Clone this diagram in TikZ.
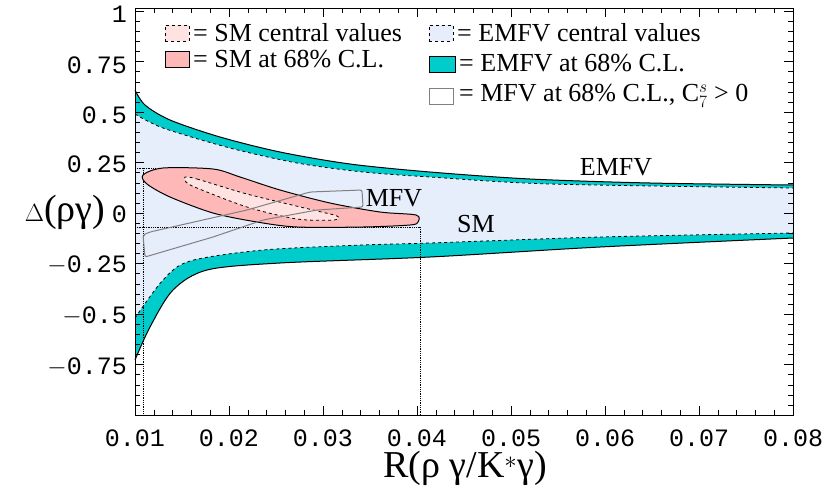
\documentclass[tikz,border=0pt]{standalone}
\usepackage{fontspec}
\setmainfont{Liberation Serif}
\setmonofont{Liberation Mono}
\definecolor{bandblue}{HTML}{E6EDFB}
\definecolor{teal2}{HTML}{00CCCC}
\definecolor{pinkA}{HTML}{FFB8B8}
\definecolor{pinkB}{HTML}{FFE2E2}
\begin{document}
\begin{tikzpicture}[x=1pt,y=-1pt,
  lbl/.style={font=\fontsize{26}{30}\selectfont,anchor=west,inner sep=0},
  tick/.style={font=\ttfamily\fontsize{25}{28}\selectfont},
  dots/.style={densely dotted,line width=0.8pt}]
\useasboundingbox (0,0) rectangle (830,496);
% teal band
\fill[teal2] plot[smooth] coordinates {(135,90)(145,105)(170,120)(220,137)(280,152)(350,164)(430,172)(530,179)(650,183)(793,185)}
  -- plot[smooth] coordinates {(793,238)(600,247)(430,257)(280,263)(207,270)(173,290)(150,327)(135,360)} -- cycle;
\fill[bandblue] plot[smooth] coordinates {(135,114)(163,128)(230,148)(297,163)(363,172)(430,177)(550,184)(793,188)}
  -- plot[smooth] coordinates {(793,233)(600,237)(430,243)(363,245)(263,250)(190,261)(163,280)(135,318)} -- cycle;
\draw[dashed,line width=0.8pt] plot[smooth] coordinates {(135,114)(163,128)(230,148)(297,163)(363,172)(430,177)(550,184)(793,188)};
\draw[dashed,line width=0.8pt] plot[smooth] coordinates {(135,318)(163,280)(190,261)(263,250)(363,245)(430,243)(600,237)(793,233)};
\draw[line width=1pt] plot[smooth] coordinates {(135,90)(145,105)(170,120)(220,137)(280,152)(350,164)(430,172)(530,179)(650,183)(793,185)};
\draw[line width=1pt] plot[smooth] coordinates {(135,360)(150,327)(173,290)(207,270)(280,263)(430,257)(600,247)(793,238)};
% dotted guides
\coordinate (d1) at (135,168); \coordinate (d2) at (155,168);
\coordinate (d3) at (135,227); \coordinate (d4) at (420,227);
\coordinate (d5) at (143,168); \coordinate (d6) at (143,415);
\coordinate (d7) at (420,227); \coordinate (d8) at (420,415);
\draw[dots] (d1)--(d2) (d3)--(d4) (d5)--(d6) (d7)--(d8);
% SM 68%
\draw[fill=pinkA,line width=1pt] plot[smooth cycle] coordinates {(143,175)(163,168)(213,169)(240,177)(280,190)(330,203)(380,212)(416,215)(418,222)(410,225)(363,227)(297,227)(257,222)(213,213)(170,197)(147,184)};
\draw[fill=pinkB,dashed,line width=0.8pt] plot[smooth cycle] coordinates {(185,177)(197,179)(247,194)(313,210)(337,216)(334,220)(297,219)(247,207)(197,188)(186,182)};
% MFV
\draw[gray,line width=1pt,rounded corners=2pt] (143,235)--(150,232)--(247,210)--(310,192)--(362,190)--(363,207)--(317,210)--(263,220)--(213,237)--(145,257)--cycle;
% labels
\node[lbl,anchor=center] (emfv) at (616,167) {EMFV};
\node[lbl,anchor=center] (sm) at (476,224) {SM};
\node[lbl,anchor=center] (mfv) at (394,198) {MFV};
% frame
\draw[line width=1pt] (135,8) rectangle (793,415);
\foreach \i in {0,...,35}{\pgfmathsetmacro\xx{135+\i*18.8}
  \draw (\xx,415)--(\xx,410) (\xx,8)--(\xx,13);}
\foreach \i in {0,...,7}{\pgfmathsetmacro\xx{135+\i*94}
  \draw (\xx,415)--(\xx,406) (\xx,8)--(\xx,17);}
\foreach \i in {0,...,40}{\pgfmathsetmacro\yy{11+\i*10.1}
  \draw (135,\yy)--(140,\yy) (793,\yy)--(788,\yy);}
\foreach \i in {0,...,8}{\pgfmathsetmacro\yy{11+\i*50.5}
  \draw (135,\yy)--(144,\yy) (793,\yy)--(784,\yy);}
\foreach \v/\yy in {1/14,0.75/65,0.5/115,0.25/164,0/214,$-$0.25/265,$-$0.5/316,$-$0.75/367}
  \node[tick,anchor=east,inner sep=0] at (127,\yy) {\v};
\foreach \v [count=\k from 0] in {0.01,0.02,0.03,0.04,0.05,0.06,0.07,0.08}
  \node[tick] at (135+\k*94,438) {\v};
\node[font=\fontsize{38}{42}\selectfont] (ylab) at (65,212) {$\Delta$(ργ)};
\node[font=\fontsize{38}{42}\selectfont] (xlab) at (465,468) {R(ρ γ/K$^{*}$γ)};
% legend
\node[draw,dashed,fill=pinkB,minimum width=24pt,minimum height=16pt,inner sep=0] (s1) at (177,33) {};
\node[lbl] (t1) at (193,33) {= SM central values};
\node[draw,fill=pinkA,minimum width=24pt,minimum height=16pt,inner sep=0] (s2) at (177,59) {};
\node[lbl] (t2) at (193,59) {= SM at 68\% C.L.};
\node[draw,dashed,fill=bandblue,minimum width=24pt,minimum height=16pt,inner sep=0] (s3) at (441,33) {};
\node[lbl] (t3) at (457,33) {= EMFV central values};
\node[draw,fill=teal2,minimum width=26pt,minimum height=16pt,inner sep=0] (s4) at (442,64) {};
\node[lbl] (t4) at (459,63) {= EMFV at 68\% C.L.};
\node[draw=gray,fill=white,minimum width=24pt,minimum height=16pt,inner sep=0] (s5) at (441,96) {};
\node[lbl] (t5) at (459,96) {= MFV at 68\% C.L., C$^{s}_{7}$ > 0};
\end{tikzpicture}
\end{document}
